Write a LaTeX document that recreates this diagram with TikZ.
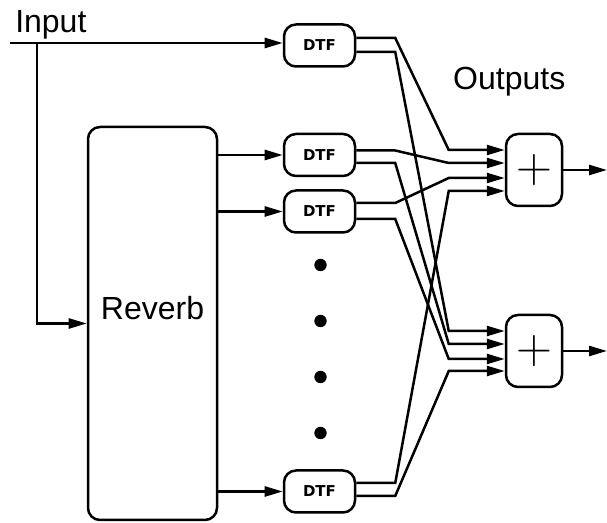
\documentclass[tikz,border=0pt]{standalone}
\usepackage{fontspec}
\setmainfont{Liberation Sans}
\newfontfamily\dtffont{DejaVu Sans}
\usetikzlibrary{arrows.meta, positioning, calc}

\begin{document}
\begin{tikzpicture}[x=0.5pt, y=-0.5pt, line width=1.25pt,
    sig/.style={-{Triangle[length=9pt,width=5pt]}},
    dtfbox/.style={draw, rounded corners=6pt, minimum width=35.5pt, minimum height=21pt, inner sep=0pt,
        font=\dtffont\bfseries\fontsize{7.5}{8}\selectfont},
    sumbox/.style={draw, rounded corners=6pt, minimum width=28pt, minimum height=36pt, inner sep=0pt,
        font=\fontsize{24}{24}\selectfont},
    lbl/.style={font=\fontsize{16}{18}\selectfont, inner sep=0pt, anchor=base west}]
    \useasboundingbox (0,0) rectangle (607,523);

    % Reverb
    \node[draw, rounded corners=6pt, minimum width=64.5pt, minimum height=196.5pt] (rev) at (152.5,323.5) {};
    \node[lbl, anchor=base] (revlbl) at (152.5,320) {Reverb};

    % DTF blocks
    \node[dtfbox] (dtfA) at (319.5,45.5) {DTF};
    \node[dtfbox] (dtfB) at (319.5,155) {DTF};
    \node[dtfbox] (dtfC) at (319.5,211.5) {DTF};
    \node[dtfbox] (dtfD) at (319.5,491.5) {DTF};
    \foreach \y in {265,321,377,433}
        \fill (320.5,\y) circle (3.1pt);

    % Summing blocks
    \node[sumbox] (sumA) at (534,170) {$+$};
    \node[sumbox] (sumB) at (534,351) {$+$};

    % Input
    \node[lbl] (inlbl) at (14,33) {Input};
    \coordinate (in) at (10,43);
    \coordinate (split) at (37,43);
    \draw[sig] (in) -- (dtfA.west |- in);
    \draw[sig] (split) |- (rev.west);
    \foreach \d in {dtfB,dtfC,dtfD}
        \draw[sig] (rev.east |- \d) -- (\d.west);

    % Crossing connections
    \foreach \s/\a/\u/\b in {dtfA/-7.5/sumA/-20, dtfA/6.5/sumB/-20,
                             dtfB/-4.5/sumA/-7,  dtfB/8/sumB/-7,
                             dtfC/-8.5/sumA/8,   dtfC/7.5/sumB/8,
                             dtfD/-8.5/sumA/21,  dtfD/4.5/sumB/20}
        \draw[sig] ($(\s.east)+(0,\a)$) -- ++(39,0) -- ($(\u.west)+(-56,\b)$) -- ($(\u.west)+(0,\b)$);

    % Outputs
    \node[lbl] (outlbl) at (452,90) {Outputs};
    \coordinate (outA) at (607,170);
    \coordinate (outB) at (607,351);
    \draw[sig] (sumA) -- (outA);
    \draw[sig] (sumB) -- (outB);
\end{tikzpicture}
\end{document}
